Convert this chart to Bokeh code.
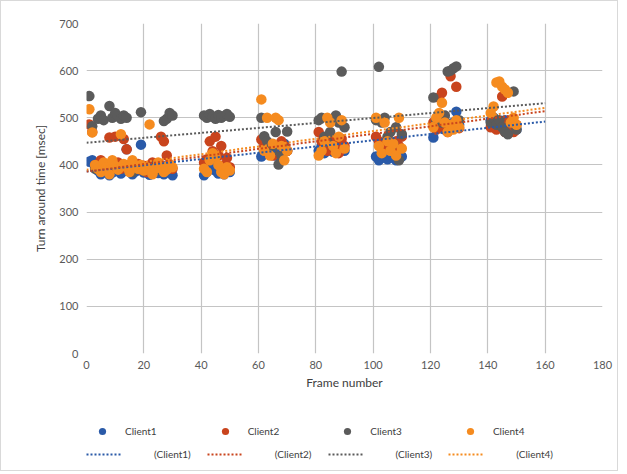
from bokeh.plotting import figure
from bokeh.layouts import column
from bokeh.models import Legend, LegendItem, ColumnDataSource, FixedTicker
from bokeh.embed import file_html
from bokeh.resources import INLINE

# ---------------- data ----------------
frames = (list(range(1, 31)) + list(range(41, 51)) + list(range(61, 71)) +
          list(range(81, 91)) + list(range(101, 111)) + list(range(121, 131)) +
          list(range(141, 151)))

client1 = [407, 410, 395, 388, 380, 385, 392, 378, 384, 398, 390, 382, 387, 433, 395,
           380, 386, 392, 443, 384, 390, 379, 396, 388, 383, 392, 380, 398, 385, 378,
           378, 385, 392, 400, 388, 382, 395, 380, 390, 385,
           418, 425, 430, 440, 432, 420, 428, 435, 445, 430,
           430, 440, 425, 445, 435, 428, 440, 432, 438, 430,
           418, 410, 415, 420, 412, 425, 415, 410, 422, 418,
           458, 480, 485, 490, 475, 488, 482, 490, 513, 485,
           495, 500, 485, 490, 480, 495, 488, 482, 479, 475]

client2 = [486, 470, 400, 395, 410, 390, 398, 458, 395, 460, 405, 392, 455, 433, 400,
           388, 395, 402, 390, 398, 385, 392, 405, 400, 395, 460, 450, 420, 398, 392,
           405, 412, 450, 429, 460, 420, 440, 400, 415, 395,
           454, 440, 430, 445, 420, 435, 425, 450, 440, 430,
           470, 450, 440, 430, 460, 445, 435, 425, 455, 440,
           460, 450, 440, 435, 455, 445, 430, 450, 440, 460,
           490, 475, 543, 553, 480, 470, 588, 485, 566, 478,
           480, 490, 475, 485, 545, 470, 490, 480, 470, 485]

client3 = [546, 482, 392, 498, 505, 495, 388, 525, 500, 510, 503, 498, 505, 500, 390,
           385, 395, 392, 512, 388, 395, 390, 385, 398, 392, 388, 493, 498, 510, 505,
           505, 500, 508, 502, 498, 506, 500, 504, 508, 502,
           500, 461, 450, 440, 430, 470, 401, 420, 435, 471,
           495, 500, 460, 450, 470, 440, 505, 490, 598, 480,
           495, 608, 490, 500, 460, 470, 445, 480, 410, 465,
           543, 495, 500, 490, 505, 598, 600, 605, 609, 495,
           490, 500, 485, 495, 480, 470, 465, 490, 556, 475]

client4 = [518, 469, 400, 392, 385, 405, 395, 380, 410, 398, 390, 465, 402, 395, 385,
           410, 398, 392, 400, 388, 395, 486, 380, 392, 405, 398, 385, 390, 402, 395,
           392, 385, 410, 425, 418, 400, 385, 380, 395, 388,
           539, 430, 500, 420, 445, 500, 495, 440, 410, 430,
           420, 430, 450, 500, 490, 440, 425, 460, 495, 435,
           500, 440, 425, 490, 450, 430, 445, 420, 500, 435,
           480, 500, 510, 532, 490, 470, 485, 475, 495, 480,
           510, 524, 575, 577, 566, 560, 553, 490, 500, 485]

# linear trend lines (end points)
trend_x = [0, 160]
trend1 = [386, 492]
trend2 = [386, 514]
trend3 = [447, 531]
trend4 = [390, 521]

names = ["Client1", "Client2", "Client3", "Client4"]
trend_labels = ["(Client1)", "(Client2)", "(Client3)", "(Client4)"]
x_ticks = list(range(0, 181, 20))
y_ticks = list(range(0, 701, 100))

colors = ["#2A5AA8", "#C9441D", "#5B5B5B", "#F58B1F"]
FONT = "Lato"

# ---------------- main figure ----------------
p = figure(width=616, height=392, x_range=(0, 180), y_range=(0, 700),
           output_backend="svg", toolbar_location=None,
           min_border_left=85, min_border_right=15, min_border_top=22,
           min_border_bottom=40)
p.outline_line_color = None
p.background_fill_color = "white"
p.border_fill_color = "white"

p.xaxis.ticker = FixedTicker(ticks=x_ticks)
p.yaxis.ticker = FixedTicker(ticks=y_ticks)
for ax in (p.xaxis[0], p.yaxis[0]):
    ax.axis_line_color = None
    ax.major_tick_line_color = None
    ax.minor_tick_line_color = None
    ax.major_tick_out = 0
    ax.major_tick_in = 0
    ax.minor_tick_out = 0
    ax.minor_tick_in = 0
    ax.major_label_text_font = FONT
    ax.major_label_text_font_size = "11px"
    ax.major_label_text_color = "#595959"
    ax.axis_label_text_font = FONT
    ax.axis_label_text_font_size = "12px"
    ax.axis_label_text_font_style = "normal"
    ax.axis_label_text_color = "#404040"
p.xaxis.axis_label = "Frame number"
p.yaxis.axis_label = "Turn around time [msec]"
p.xaxis.major_label_standoff = 7
p.xaxis.axis_label_standoff = 3
p.yaxis.major_label_standoff = 8
p.yaxis.axis_label_standoff = 8

p.xgrid.ticker = FixedTicker(ticks=x_ticks)
p.ygrid.ticker = FixedTicker(ticks=y_ticks)
p.grid.grid_line_color = "#C4C4C4"
p.grid.grid_line_width = 1.2

series = [client1, client2, client3, client4]
trends = [trend1, trend2, trend3, trend4]

sources = []
for vals, c in zip(series, colors):
    src = ColumnDataSource(dict(x=frames, y=vals))
    sources.append(src)
    p.scatter("x", "y", source=src, size=10.5, fill_color=c, line_color=c,
              line_alpha=0.0)

trend_sources = []
for t, c in zip(trends, colors):
    tsrc = ColumnDataSource(dict(x=trend_x, y=t))
    trend_sources.append(tsrc)
    p.line("x", "y", source=tsrc, line_color=c, line_width=2, line_dash="2 2")

# ---------------- legend strip (same series, drawn outside its view) ----------------
lg = figure(width=616, height=77, x_range=(0, 1), y_range=(0, 1),
            output_backend="svg", toolbar_location=None,
            x_axis_type=None, y_axis_type=None,
            min_border_left=0, min_border_right=0, min_border_top=0, min_border_bottom=0)
lg.outline_line_color = None
lg.grid.visible = False
lg.background_fill_color = "white"
lg.border_fill_color = "white"

key_scatter = [lg.scatter("x", "y", source=s, size=10.5, fill_color=c, line_color=c,
                          line_alpha=0.0)
               for s, c in zip(sources, colors)]
key_line = [lg.line("x", "y", source=s, line_color=c, line_width=2, line_dash="2 2")
            for s, c in zip(trend_sources, colors)]

leg1 = Legend(items=[LegendItem(label=n, renderers=[r], index=0)
                     for n, r in zip(names, key_scatter)],
              orientation="horizontal", location=(7, 29),
              glyph_width=18, glyph_height=20, label_standoff=14, spacing=59,
              padding=0, margin=0, border_line_color=None, background_fill_alpha=0,
              label_text_font=FONT, label_text_font_size="10px",
              label_text_color="#404040")
leg2 = Legend(items=[LegendItem(label=n, renderers=[r])
                     for n, r in zip(trend_labels, key_line)],
              orientation="horizontal", location=(0, 6),
              glyph_width=36, glyph_height=20, label_standoff=32, spacing=16,
              padding=0, margin=0, border_line_color=None, background_fill_alpha=0,
              label_text_font=FONT, label_text_font_size="10px",
              label_text_color="#404040")
lg.add_layout(leg1, "center")
lg.add_layout(leg2, "center")

layout = column(p, lg, spacing=0)
layout.styles = {"border": "1px solid #D9D9D9"}

open("out.html", "w").write(file_html(layout, INLINE))
